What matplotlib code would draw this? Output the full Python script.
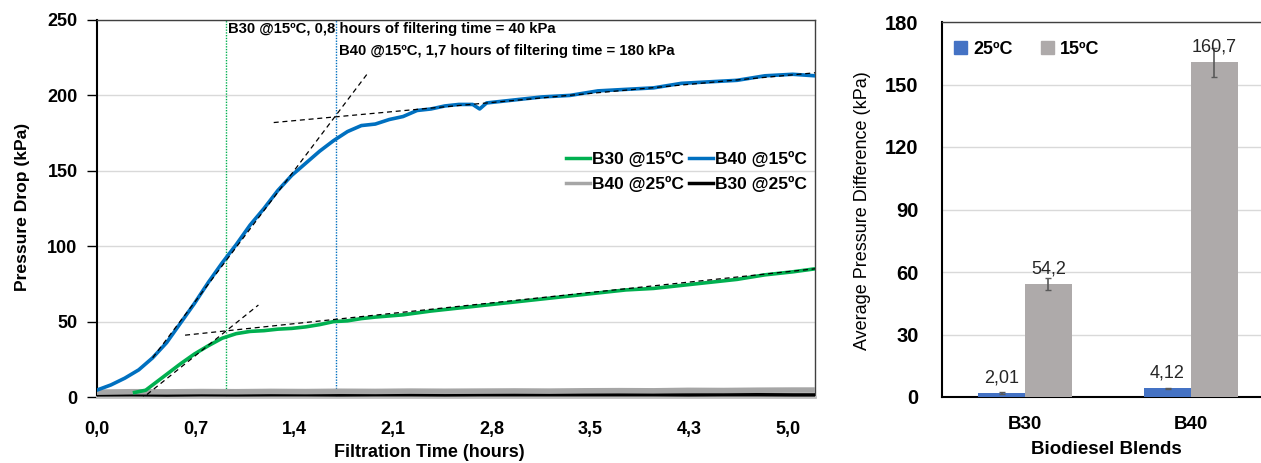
import matplotlib
matplotlib.use("Agg")
import matplotlib.pyplot as plt
from matplotlib.patches import Patch
from matplotlib.lines import Line2D
from matplotlib import font_manager

# ---------------- data (left chart) ----------------
t_b40_15 = [0.0, 0.1, 0.2, 0.3, 0.4, 0.5, 0.6, 0.7, 0.8, 0.9, 1.0, 1.1, 1.2, 1.3, 1.4,
            1.5, 1.6, 1.7, 1.8, 1.9, 2.0, 2.1, 2.2, 2.3, 2.4, 2.5, 2.6, 2.7, 2.75, 2.8,
            2.9, 3.0, 3.2, 3.4, 3.6, 3.8, 4.0, 4.2, 4.4, 4.6, 4.8, 5.0, 5.16]
p_b40_15 = [4.6, 8, 12.5, 18, 26, 36, 49, 62, 76, 89, 101, 114, 125, 137, 147,
            155, 163, 170, 176, 180, 181, 184, 186, 190, 191, 193, 194, 194, 191, 195,
            196, 197, 199, 200, 203, 204, 205, 208, 209, 210, 213, 214, 213]

t_b30_15 = [0.27, 0.35, 0.4, 0.5, 0.6, 0.7, 0.8, 0.9, 1.0, 1.1, 1.2, 1.3, 1.4, 1.5, 1.6,
            1.7, 1.8, 1.9, 2.0, 2.2, 2.4, 2.6, 2.8, 3.0, 3.2, 3.4, 3.6, 3.8, 4.0, 4.2,
            4.4, 4.6, 4.8, 5.0, 5.16]
p_b30_15 = [3, 4.5, 8, 15, 22, 28.5, 34, 39, 42, 43.5, 44, 45, 45.5, 46.5, 48,
            50, 50.5, 52, 53, 54.5, 57, 59, 61, 63, 65, 67, 69, 71, 72, 74,
            76, 78, 81, 83, 85]

t_25 = [0.0, 0.25, 0.5, 0.75, 1.0, 1.25, 1.5, 1.75, 2.0, 2.25, 2.5, 2.75, 3.0, 3.25,
        3.5, 3.75, 4.0, 4.25, 4.5, 4.75, 5.0, 5.16]
p_b40_25 = [3.2, 3.5, 3.4, 3.6, 3.5, 3.7, 3.6, 3.8, 3.7, 3.9, 3.8, 3.9, 4.0, 3.9,
            4.1, 4.2, 4.1, 4.4, 4.3, 4.5, 4.6, 4.6]
p_b30_25 = [1.4, 1.5, 1.3, 1.5, 1.4, 1.5, 1.5, 1.4, 1.5, 1.5, 1.4, 1.5, 1.5, 1.5,
            1.5, 1.5, 1.5, 1.4, 1.5, 1.5, 1.4, 1.4]

# tangent (dashed) lines: (t, p) endpoints
tan_b40_rise = ([0.40, 1.94], [26, 214])
tan_b40_flat = ([1.27, 5.16], [182, 215])
tan_b30_rise = ([0.31, 1.16], [-2, 61])
tan_b30_flat = ([0.633, 5.16], [41, 85])

t_mark_b30 = 0.93
t_mark_b40 = 1.72

x_unit = 0.709
x_tick_labels = ["0,0", "0,7", "1,4", "2,1", "2,8", "3,5", "4,3", "5,0"]
y_ticks_left = [0, 50, 100, 150, 200, 250]

ann_b30 = "B30 @15ºC, 0,8 hours of filtering time = 40 kPa"
ann_b40 = "B40 @15ºC, 1,7 hours of filtering time = 180 kPa"

# ---------------- data (right chart) ----------------
blends = ["B30", "B40"]
avg_25 = [2.01, 4.12]
avg_15 = [54.2, 160.7]
err_25 = [0.4, 0.4]
err_15 = [2.8, 7.0]
lab_25 = ["2,01", "4,12"]
lab_15 = ["54,2", "160,7"]
y_ticks_right = [0, 30, 60, 90, 120, 150, 180]

# ---------------- style ----------------
names = {f.name for f in font_manager.fontManager.ttflist}
BASE = "Liberation Sans" if "Liberation Sans" in names else "DejaVu Sans"
NARROW = "Liberation Sans Narrow" if "Liberation Sans Narrow" in names else BASE
plt.rcParams["font.family"] = [BASE, "DejaVu Sans"]

C_GREEN = "#00B050"
C_BLUE = "#0070C0"
C_GRAY = "#A6A6A6"
C_BAR_BLUE = "#4472C4"
C_BAR_GRAY = "#AEAAAA"
GRID = "#D9D9D9"

W, H = 1261, 463
fig = plt.figure(figsize=(W / 100, H / 100), dpi=100)

# ---------------- left chart ----------------
axL = fig.add_axes([97 / W, 1 - 397 / H, (815 - 97) / W, (397 - 20) / H])
axL.plot(t_25, p_b30_25, color="black", lw=2.5, zorder=3)
axL.plot(t_25, p_b40_25, color=C_GRAY, lw=4, zorder=3)
axL.plot(t_b30_15, p_b30_15, color=C_GREEN, lw=2.6, zorder=4)
axL.plot(t_b40_15, p_b40_15, color=C_BLUE, lw=2.6, zorder=4)
for tx, ty in (tan_b40_rise, tan_b40_flat, tan_b30_rise, tan_b30_flat):
    axL.plot(tx, ty, color="black", lw=0.9, ls=(0, (4, 3)), zorder=5)
axL.axvline(t_mark_b30, color=C_GREEN, lw=1.0, ls=(0, (1, 1)), zorder=2)
axL.axvline(t_mark_b40, color=C_BLUE, lw=1.0, ls=(0, (1, 1)), zorder=2)

axL.set_xlim(0, 5.16)
axL.set_ylim(0, 250)
axL.set_xticks([i * x_unit for i in range(len(x_tick_labels))])
axL.set_xticklabels(x_tick_labels)
axL.set_yticks(y_ticks_left)
axL.tick_params(axis="x", length=0, pad=17, labelsize=13)
axL.tick_params(axis="y", length=7, width=1, direction="out", pad=7, labelsize=13)
for lab in axL.get_xticklabels() + axL.get_yticklabels():
    lab.set_fontweight("bold")
axL.grid(axis="y", color=GRID, lw=1)
axL.set_axisbelow(True)
axL.spines["left"].set_color("black")
axL.spines["left"].set_linewidth(1.5)
axL.spines["bottom"].set_color("#BFBFBF")
axL.spines["bottom"].set_linewidth(2)
for s in ("top", "right"):
    axL.spines[s].set_color("#404040")
    axL.spines[s].set_linewidth(1)

axL.set_ylabel("Pressure Drop (kPa)", fontsize=12.6, family=[NARROW, BASE], fontweight="bold")
axL.yaxis.set_label_coords(-0.104, 0.504)
axL.yaxis.label.set_va("center")
axL.set_xlabel("Filtration Time (hours)", fontsize=13, fontweight="bold")
axL.xaxis.set_label_coords(0.463, -0.148)
axL.xaxis.label.set_va("center")

tr = axL.get_xaxis_transform()
axL.text(t_mark_b30 + 0.01, 0.975, ann_b30, transform=tr, fontsize=10.7,
         fontweight="bold", va="center", ha="left")
axL.text(t_mark_b40 + 0.02, 0.917, ann_b40, transform=tr, fontsize=10.7,
         fontweight="bold", va="center", ha="left")

hL = [Line2D([], [], color=C_GREEN, lw=2.5), Line2D([], [], color=C_GRAY, lw=2.5),
      Line2D([], [], color=C_BLUE, lw=2.5), Line2D([], [], color="black", lw=2.5)]
lL = ["B30 @15ºC", "B40 @25ºC", "B40 @15ºC", "B30 @25ºC"]
axL.legend(hL, lL, ncol=2, loc="upper right", bbox_to_anchor=(0.989, 0.652),
           frameon=False, borderpad=0, borderaxespad=0, handlelength=1.4,
           handletextpad=0.1, columnspacing=0.3, labelspacing=0.5,
           prop={"size": 12.5, "weight": "bold"})

# ---------------- right chart ----------------
axR = fig.add_axes([942 / W, 1 - 397 / H, 332 / W, (397 - 22) / H])
xs = list(range(len(blends)))
bw = 0.283
x25 = [x - bw / 2 for x in xs]
x15 = [x + bw / 2 for x in xs]
axR.bar(x25, avg_25, width=bw, color=C_BAR_BLUE, zorder=3)
axR.bar(x15, avg_15, width=bw, color=C_BAR_GRAY, zorder=3)
axR.errorbar(x25, avg_25, yerr=err_25, fmt="none", ecolor="#595959", elinewidth=1.2,
             capsize=2.5, zorder=4)
axR.errorbar(x15, avg_15, yerr=err_15, fmt="none", ecolor="#595959", elinewidth=1.2,
             capsize=2.5, zorder=4)
for x, v, s in zip(x25 + x15, avg_25 + avg_15, lab_25 + lab_15):
    axR.annotate(s, (x, v), xytext=(0, 11), textcoords="offset points",
                 ha="center", va="center", fontsize=13, color="#262626", zorder=5)

axR.set_xlim(-0.5, 1.5)
axR.set_ylim(0, 180)
axR.set_yticks(y_ticks_right)
axR.set_xticks(xs)
axR.set_xticklabels(blends)
axR.tick_params(axis="y", length=0, pad=17, labelsize=14.5)
axR.tick_params(axis="x", length=0, pad=14, labelsize=13.5)
for lab in axR.get_xticklabels() + axR.get_yticklabels():
    lab.set_fontweight("bold")
axR.grid(axis="y", color=GRID, lw=1)
axR.set_axisbelow(True)
axR.spines["left"].set_color("black")
axR.spines["left"].set_linewidth(1.5)
axR.spines["bottom"].set_color("black")
axR.spines["bottom"].set_linewidth(1.5)
axR.spines["top"].set_color("#404040")
axR.spines["top"].set_linewidth(1)
axR.spines["right"].set_visible(False)

axR.set_ylabel("Average Pressure Difference (kPa)", fontsize=13, family=[NARROW, BASE])
axR.yaxis.set_label_coords(-0.239, 0.496)
axR.yaxis.label.set_va("center")
axR.set_xlabel("Biodiesel Blends", fontsize=13.5, fontweight="bold")
axR.xaxis.set_label_coords(0.494, -0.141)
axR.xaxis.label.set_va("center")

hR = [Patch(color=C_BAR_BLUE), Patch(color=C_BAR_GRAY)]
axR.legend(hR, ["25ºC", "15ºC"], ncol=2, loc="upper left", bbox_to_anchor=(0.036, 0.95),
           frameon=False, borderpad=0, borderaxespad=0, handlelength=0.7, handleheight=0.7,
           handletextpad=0.35, columnspacing=1.6, prop={"size": 13, "weight": "bold"})

fig.savefig("out.png", dpi=100)
